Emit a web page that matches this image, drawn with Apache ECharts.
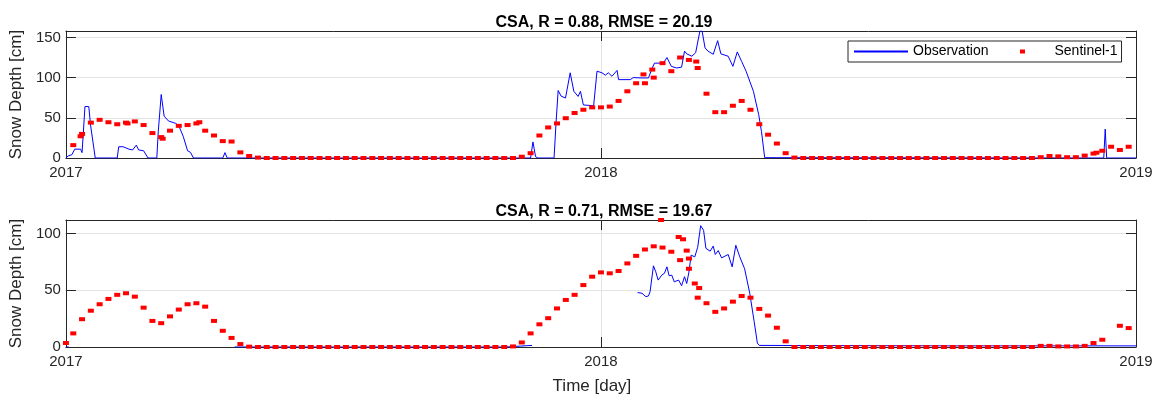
<!DOCTYPE html>
<html>
<head>
<meta charset="utf-8">
<title>Snow depth</title>
<script src="https://cdn.jsdelivr.net/npm/echarts@6/dist/echarts.min.js"></script>
<style>
html, body { margin: 0; padding: 0; background: #fff; }
#main { width: 1161px; height: 405px; }
</style>
</head>
<body>
<div id="main"></div>
<script>
// x values are days counted from 2017-01-01 (2018 -> 365, 2019 -> 730)
var yearTicks = ['2017', '2018', '2019'];
var titles = ['CSA, R = 0.88, RMSE = 20.19', 'CSA, R = 0.71, RMSE = 19.67'];
var yMax = [158, 112];

// in-situ observation, [day, cm]
var obsTop = [
  [0, 0.4], [2, 3], [4, 4], [6, 11], [10, 11], [11, 6.7], [13, 64], [15.6, 64], [16.8, 41], [18, 39],
  [20, 0], [35, 0], [36, 14], [39, 14], [43, 11], [45.5, 10], [48, 16], [49.6, 10], [53, 9], [56, 0],
  [62, 0], [63, 33], [65, 79], [67, 52], [70, 46], [75, 43], [77, 40], [80, 27], [83, 9], [85, 7],
  [87, 0], [107, 0], [108.5, 6.7], [110, 0], [317, 0], [318.6, 20], [320.4, 1.6], [322, 0], [333, 0],
  [334.4, 45], [335.8, 84], [337.8, 77], [339, 79], [340.8, 74.6], [344, 106], [346.5, 83], [349.4, 76.6],
  [351, 83], [353, 66], [360, 65], [362.3, 108], [365.7, 106], [368, 103], [370, 106], [372.5, 101.7],
  [376, 109], [377, 97.5], [385, 97.5], [387, 100], [393, 99.6], [397.4, 99.6], [400, 112], [401.5, 118],
  [407.6, 118], [410, 125], [413, 114], [416.6, 112], [420, 113], [422, 133], [423.5, 129.6], [427, 126.6],
  [429.6, 131], [432.5, 158], [434, 158], [436, 137], [438, 133], [441.6, 129], [444.6, 146], [446.8, 129.6],
  [451.8, 126.6], [455, 114], [458, 132], [461, 120], [464, 108], [469, 83], [472.6, 54], [474.5, 33],
  [476.7, 0.4], [708, 0], [709, 36], [710, 0], [730, 0]
];
var obsBottom = [
  [0, 0], [2, 0], [2.5, null], [115, 0], [300, 0], [310, 0.8], [318, 1.4], [319, null],
  [390, 48], [393, 47.4], [395.6, 44.4], [397.4, 45], [398.5, 48.8], [400.8, 71.6], [402.4, 66.3], [404, 59],
  [406.5, 63.4], [408.3, 65], [410, 70.7], [411.5, 62.8], [413.3, 63.4], [415, 57.5], [418, 59], [420, 54],
  [422, 62], [423.5, 56], [425, 66], [426.5, 81], [429, 79.5], [431, 88], [433, 107], [435, 103],
  [436.6, 87], [439.5, 84.5], [441.6, 89], [443, 81.6], [445, 85], [447.3, 78.6], [451.8, 81.6], [454.5, 70.7],
  [457, 89.7], [459.7, 79.5], [463, 69], [466.5, 47.4], [469.5, 22.5], [471.7, 3.5], [473, 1.4],
  [600, 1], [730, 1]
];

// Sentinel-1 retrievals, one every 6 days starting at day 5
var s1Start = 5, s1Step = 6;
var s1Top = [
  16, 30, 44, 47.5, 44.5, 42, 44, 45.5, 41, 31, 26, 34, 40, 41, 43, 34, 28, 21, 20.5, 7, 2.5, 0.5,
  0, 0, 0, 0, 0, 0, 0, 0, 0, 0, 0, 0, 0, 0, 0, 0, 0, 0, 0, 0, 0, 0, 0, 0, 0, 0, 0, 0,
  0, 1.6, 6, 28, 38, 43, 49.5, 56, 60, 63, 63, 64, 71, 83, 93, 93, 100, 118, 108, 125, 122, 112,
  80, 57, 57, 65, 71, 60, 42, 29, 18, 6, 0.5,
  0, 0, 0, 0, 0, 0, 0, 0, 0, 0, 0, 0, 0, 0, 0, 0, 0, 0, 0, 0, 0, 0, 0, 0, 0, 0, 0,
  1, 2.5, 2, 1, 1, 3, 5.5, 9, 14, 10, 14
];
var s1Bottom = [
  12, 24.5, 32, 37.7, 42.4, 46, 47.4, 44.4, 34.7, 23, 21, 27, 33, 37.7, 38.6, 35.6, 23, 14.3, 8, 2.6, 0.3,
  0, 0, 0, 0, 0, 0, 0, 0, 0, 0, 0, 0, 0, 0, 0, 0, 0, 0, 0, 0, 0, 0, 0, 0, 0, 0, 0, 0, 0,
  0.5, 4, 12, 20, 25.4, 34, 41.5, 46, 54.6, 62, 65.8, 65, 67, 73.7, 80.4, 86, 88.8, 87.7, 84, 76.6, 69,
  43.5, 38.6, 31, 34, 40, 45, 43.5, 33.6, 27.7, 17, 5, 0,
  0, 0, 0, 0, 0, 0, 0, 0, 0, 0, 0, 0, 0, 0, 0, 0, 0, 0, 0, 0, 0, 0, 0, 0, 0, 0, 0,
  1, 1, 0.5, 0.5, 0.5, 1, 3.5, 6.4, null, 18.7, 16.7
];
// extra acquisitions in between, [day, cm]
var s1TopExtra = [[10, 27], [42, 43], [66, 24], [91, 44.5], [394, 104], [400, 110], [430, 120], [703, 6.6]];
var s1BottomExtra = [[0, 3.5], [406, 112], [418, 97], [421, 95], [423.5, 85], [425, 78], [429, 56], [432, 52]];

var FONT = 'Liberation Sans, Arial, sans-serif';
var AX = '#262626';
var gridTop = [31, 220];

function s1Points(vals, extra) {
  var pts = vals.map(function (v, i) { return [s1Start + i * s1Step, v]; });
  return pts.concat(extra);
}

var obs = [obsTop, obsBottom];
var s1 = [s1Points(s1Top, s1TopExtra), s1Points(s1Bottom, s1BottomExtra)];

// 54x5 icon; the tiny corner strokes keep the full width for the legend layout
var squareIcon = 'path://M0,0L0.01,0M54,5L53.99,5M24.5,0.5L29.5,0.5L29.5,4.5L24.5,4.5Z';

var option = {
  animation: false,
  backgroundColor: '#fff',
  title: titles.map(function (t, k) {
    return {
      text: t, left: 599, top: gridTop[k] - 21, textAlign: 'center',
      textStyle: { fontFamily: FONT, fontSize: 16, fontWeight: 'bold', color: '#000' }
    };
  }),
  legend: {
    left: 848, top: 41,
    padding: [3, 4, 3, 5],
    itemGap: 7, itemWidth: 54, itemHeight: 5,
    borderColor: AX, borderWidth: 1, backgroundColor: '#fff',
    selectedMode: false,
    textStyle: { fontFamily: FONT, fontSize: 14, color: '#000', lineHeight: 15 },
    data: [
      // line series icon, with its centre dot hidden
      { name: 'Observation', itemStyle: { color: 'rgba(0,0,0,0)', borderWidth: 0 } },
      { name: 'Sentinel-1', icon: squareIcon, itemStyle: { color: '#ff0000' } }
    ]
  },
  grid: gridTop.map(function (t) { return { left: 62, top: t, width: 1074, height: 127 }; }),
  xAxis: [],
  yAxis: [],
  series: []
};

[0, 1].forEach(function (k) {
  var baseX = {
    type: 'value', gridIndex: k, min: 0, max: 730, interval: 365,
    axisLine: { show: true, onZero: false, lineStyle: { color: AX, width: 1 } },
    axisTick: { show: true, inside: true, length: 10, lineStyle: { color: AX } }
  };
  option.xAxis.push(Object.assign({}, baseX, {
    position: 'bottom',
    axisLabel: {
      margin: 7, fontFamily: FONT, fontSize: 15, color: AX,
      formatter: function (v) { return yearTicks[Math.round(v / 365)]; }
    },
    splitLine: { show: true, lineStyle: { color: '#e3e3e3' } },
    name: k === 1 ? 'Time [day]' : '',
    nameLocation: 'middle', nameGap: 31,
    nameTextStyle: { fontFamily: FONT, fontSize: 17, color: AX, padding: [0, 18, 0, 0] }
  }));
  option.xAxis.push(Object.assign({}, baseX, {
    position: 'top',
    axisLabel: { show: false },
    splitLine: { show: false }
  }));

  var baseY = {
    type: 'value', gridIndex: k, min: 0, max: yMax[k], interval: 50,
    axisLine: { show: true, onZero: false, lineStyle: { color: AX, width: 1 } },
    axisTick: { show: true, inside: true, length: 10, lineStyle: { color: AX } }
  };
  option.yAxis.push(Object.assign({}, baseY, {
    position: 'left',
    axisLabel: {
      margin: 5, fontFamily: FONT, fontSize: 15, color: AX,
      formatter: function (v) { return v % 50 === 0 ? String(v) : ''; }
    },
    splitLine: { show: true, lineStyle: { color: '#e3e3e3' } },
    name: 'Snow Depth [cm]', nameLocation: 'middle', nameGap: 33, nameRotate: 90,
    nameTextStyle: { fontFamily: FONT, fontSize: 17, color: AX }
  }));
  option.yAxis.push(Object.assign({}, baseY, {
    position: 'right',
    axisLabel: { show: false },
    splitLine: { show: false }
  }));

  option.series.push({
    name: 'Observation', type: 'line', xAxisIndex: 2 * k, yAxisIndex: 2 * k,
    data: obs[k], symbol: 'none', connectNulls: false,
    lineStyle: { color: '#0000ff', width: 1 }, itemStyle: { color: '#0000ff' }, z: 2
  });
  option.series.push({
    name: 'Sentinel-1', type: 'scatter', xAxisIndex: 2 * k, yAxisIndex: 2 * k,
    data: s1[k], symbol: 'rect', symbolSize: [6, 4], clip: false,
    itemStyle: { color: '#ff0000', opacity: 1 }, z: 3
  });
});

var chart = echarts.init(document.getElementById('main'));
chart.setOption(option);
</script>
</body>
</html>
